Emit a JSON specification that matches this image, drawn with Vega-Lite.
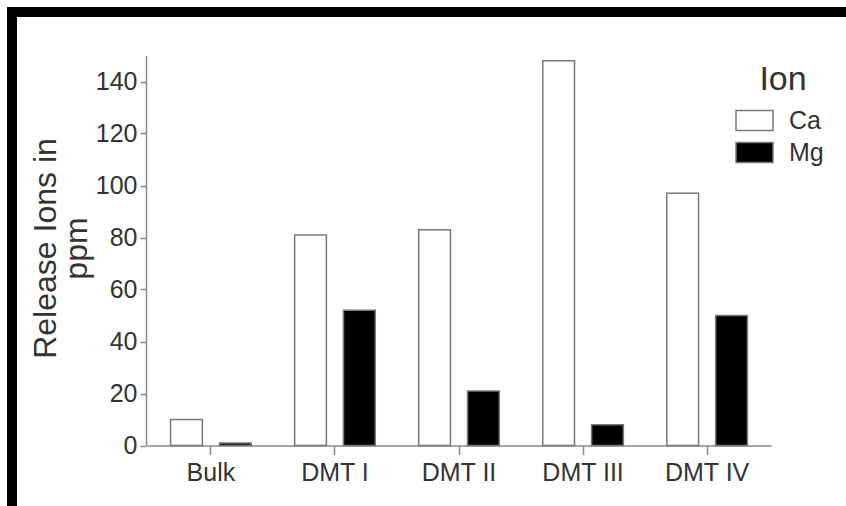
{
  "$schema": "https://vega.github.io/schema/vega-lite/v6.json",
  "width": 846,
  "height": 506,
  "autosize": {"type": "none"},
  "padding": {"left": 12, "top": 12, "right": -12, "bottom": -12},
  "background": "white",
  "data": {
    "values": [
      {"Group": "Bulk", "Ion": "Ca", "Value": 10},
      {"Group": "Bulk", "Ion": "Mg", "Value": 1},
      {"Group": "DMT I", "Ion": "Ca", "Value": 81},
      {"Group": "DMT I", "Ion": "Mg", "Value": 52},
      {"Group": "DMT II", "Ion": "Ca", "Value": 83},
      {"Group": "DMT II", "Ion": "Mg", "Value": 21},
      {"Group": "DMT III", "Ion": "Ca", "Value": 148},
      {"Group": "DMT III", "Ion": "Mg", "Value": 8},
      {"Group": "DMT IV", "Ion": "Ca", "Value": 97},
      {"Group": "DMT IV", "Ion": "Mg", "Value": 50}
    ]
  },
  "mark": {"type": "bar", "stroke": "#777777", "strokeWidth": 1.5},
  "encoding": {
    "x": {
      "field": "Group",
      "type": "nominal",
      "sort": ["Bulk", "DMT I", "DMT II", "DMT III", "DMT IV"],
      "scale": {"range": [135, 759], "paddingInner": 0.35, "paddingOuter": 0.19},
      "axis": {
        "title": null,
        "labelAngle": 0,
        "offset": -72.5,
        "domainColor": "#888888",
        "domainWidth": 1.5,
        "tickColor": "#888888",
        "tickWidth": 1.5,
        "tickSize": 9,
        "labelPadding": 6,
        "labelFontSize": 25,
        "labelColor": "#333333",
        "labelFont": "Liberation Sans Narrow, Arial Narrow, Liberation Sans, Arial, sans-serif"
      }
    },
    "xOffset": {
      "field": "Ion",
      "type": "nominal",
      "sort": ["Ca", "Mg"],
      "scale": {"paddingInner": 0.35, "paddingOuter": 0}
    },
    "y": {
      "field": "Value",
      "type": "quantitative",
      "scale": {"domain": [0, 150], "range": [433.5, 43.5], "nice": false, "zero": true},
      "axis": {
        "title": ["Release Ions in", "ppm"],
        "values": [0, 20, 40, 60, 80, 100, 120, 140],
        "grid": false,
        "offset": -134,
        "domainColor": "#888888",
        "domainWidth": 1.5,
        "tickColor": "#888888",
        "tickWidth": 1.5,
        "tickSize": 6,
        "labelPadding": 3,
        "labelFontSize": 25,
        "labelColor": "#333333",
        "labelFont": "Liberation Sans Narrow, Arial Narrow, Liberation Sans, Arial, sans-serif",
        "titleFont": "Liberation Sans Narrow, Arial Narrow, Liberation Sans, Arial, sans-serif",
        "titleFontSize": 32,
        "titleFontWeight": "normal",
        "titleColor": "#333333",
        "titleLineHeight": 31,
        "titleAngle": -90,
        "titleAlign": "center",
        "titleBaseline": "alphabetic",
        "titleX": -91,
        "titleY": 236
      }
    },
    "fill": {
      "field": "Ion",
      "type": "nominal",
      "scale": {"domain": ["Ca", "Mg"], "range": ["white", "black"]},
      "legend": {
        "title": "Ion",
        "orient": "none",
        "legendX": 730,
        "legendY": 51,
        "padding": 0,
        "titleFont": "Liberation Sans Narrow, Arial Narrow, Liberation Sans, Arial, sans-serif",
        "titleFontSize": 34,
        "titleFontWeight": "normal",
        "titleColor": "#333333",
        "titlePadding": 11,
        "titleAnchor": "middle",
        "labelFont": "Liberation Sans Narrow, Arial Narrow, Liberation Sans, Arial, sans-serif",
        "labelFontSize": 25,
        "labelColor": "#333333",
        "labelOffset": 22,
        "rowPadding": 5,
        "symbolType": "M-1.85,-1L1.85,-1L1.85,1L-1.85,1Z",
        "symbolSize": 400,
        "symbolStrokeColor": "#777777",
        "symbolStrokeWidth": 1.5
      }
    }
  },
  "config": {
    "view": {"stroke": "black", "strokeWidth": 10, "fill": "white"}
  }
}
